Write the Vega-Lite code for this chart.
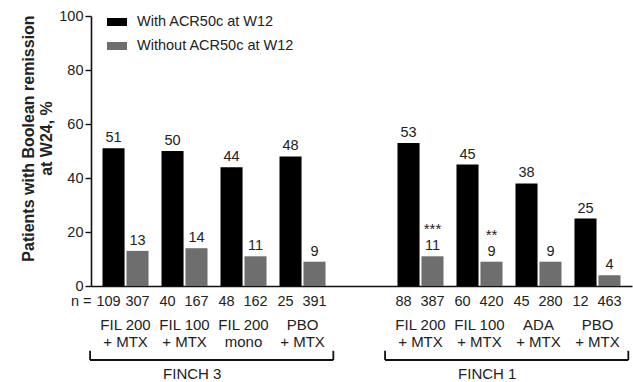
{
  "$schema": "https://vega.github.io/schema/vega-lite/v6.json",
  "width": 541,
  "height": 270,
  "autosize": {"type": "none"},
  "padding": {"left": 91, "top": 16, "right": 1, "bottom": 96},
  "background": "white",
  "config": {
    "font": "Liberation Sans",
    "view": {"stroke": null},
    "text": {"font": "Liberation Sans", "fontSize": 14.5, "color": "#222"}
  },
  "datasets": {
    "bars": [
      {"arm": "3|FIL 200|+ MTX", "series": "With ACR50c at W12", "pct": 51, "n": 109, "sig": ""},
      {"arm": "3|FIL 200|+ MTX", "series": "Without ACR50c at W12", "pct": 13, "n": 307, "sig": ""},
      {"arm": "3|FIL 100|+ MTX", "series": "With ACR50c at W12", "pct": 50, "n": 40, "sig": ""},
      {"arm": "3|FIL 100|+ MTX", "series": "Without ACR50c at W12", "pct": 14, "n": 167, "sig": ""},
      {"arm": "3|FIL 200|mono", "series": "With ACR50c at W12", "pct": 44, "n": 48, "sig": ""},
      {"arm": "3|FIL 200|mono", "series": "Without ACR50c at W12", "pct": 11, "n": 162, "sig": ""},
      {"arm": "3|PBO|+ MTX", "series": "With ACR50c at W12", "pct": 48, "n": 25, "sig": ""},
      {"arm": "3|PBO|+ MTX", "series": "Without ACR50c at W12", "pct": 9, "n": 391, "sig": ""},
      {"arm": "1|FIL 200|+ MTX", "series": "With ACR50c at W12", "pct": 53, "n": 88, "sig": ""},
      {"arm": "1|FIL 200|+ MTX", "series": "Without ACR50c at W12", "pct": 11, "n": 387, "sig": "***"},
      {"arm": "1|FIL 100|+ MTX", "series": "With ACR50c at W12", "pct": 45, "n": 60, "sig": ""},
      {"arm": "1|FIL 100|+ MTX", "series": "Without ACR50c at W12", "pct": 9, "n": 420, "sig": "**"},
      {"arm": "1|ADA|+ MTX", "series": "With ACR50c at W12", "pct": 38, "n": 45, "sig": ""},
      {"arm": "1|ADA|+ MTX", "series": "Without ACR50c at W12", "pct": 9, "n": 280, "sig": ""},
      {"arm": "1|PBO|+ MTX", "series": "With ACR50c at W12", "pct": 25, "n": 12, "sig": ""},
      {"arm": "1|PBO|+ MTX", "series": "Without ACR50c at W12", "pct": 4, "n": 463, "sig": ""}
    ],
    "studies": [
      {"study": "FINCH 3", "first": "3|FIL 200|+ MTX", "last": "3|PBO|+ MTX"},
      {"study": "FINCH 1", "first": "1|FIL 200|+ MTX", "last": "1|PBO|+ MTX"}
    ]
  },
  "layer": [
    {
      "data": {"name": "bars"},
      "mark": {"type": "bar", "stroke": null},
      "encoding": {
        "x": {
          "field": "arm", "type": "nominal", "sort": null,
          "scale": {
            "domain": ["3|FIL 200|+ MTX", "3|FIL 100|+ MTX", "3|FIL 200|mono", "3|PBO|+ MTX", "gap", "1|FIL 200|+ MTX", "1|FIL 100|+ MTX", "1|ADA|+ MTX", "1|PBO|+ MTX"],
            "paddingInner": 0.22, "paddingOuter": 0.195
          },
          "axis": {
            "title": null, "ticks": false, "labelAngle": 0,
            "labelExpr": "datum.label == 'gap' ? '' : slice(split(datum.label, '|'), 1)",
            "labelFont": "Liberation Sans", "labelFontSize": 15, "labelColor": "#222",
            "labelPadding": 31, "labelLineHeight": 17, "labelBaseline": "top",
            "domainColor": "#111", "domainWidth": 1.6
          }
        },
        "xOffset": {
          "field": "series", "type": "nominal", "sort": null,
          "scale": {"paddingInner": 0.08}
        },
        "y": {
          "field": "pct", "type": "quantitative",
          "scale": {"domain": [0, 100], "nice": false},
          "axis": {
            "values": [0, 20, 40, 60, 80, 100], "grid": false,
            "title": ["Patients with Boolean remission", "at W24, %"],
            "titleFont": "Liberation Sans", "titleFontSize": 16, "titleFontWeight": "bold",
            "titleColor": "#222", "titlePadding": 4, "titleLineHeight": 18,
            "titleY": 122,
            "labelFont": "Liberation Sans", "labelFontSize": 14.5, "labelColor": "#222",
            "labelPadding": 2,
            "domainColor": "#111", "domainWidth": 1.6,
            "tickColor": "#111", "tickWidth": 1.4, "tickSize": 6
          }
        },
        "color": {
          "field": "series", "type": "nominal", "sort": null,
          "scale": {"range": ["#000000", "#6e6e6e"]},
          "legend": {
            "title": null, "orient": "none", "legendX": 16, "legendY": -4,
            "symbolType": "M-1,-0.4H1V0.4H-1Z", "symbolSize": 400,
            "symbolStrokeWidth": 0, "labelFont": "Liberation Sans",
            "labelFontSize": 14.5, "labelColor": "#222", "labelOffset": 10,
            "rowPadding": 7
          }
        }
      }
    },
    {
      "data": {"name": "bars"},
      "mark": {"type": "text", "baseline": "bottom", "dy": -3},
      "encoding": {
        "x": {"field": "arm", "type": "nominal"},
        "xOffset": {"field": "series", "type": "nominal", "sort": null},
        "y": {"field": "pct", "type": "quantitative"},
        "text": {"field": "pct", "type": "quantitative"}
      }
    },
    {
      "data": {"name": "bars"},
      "mark": {"type": "text", "baseline": "bottom", "dy": -19, "fontSize": 15},
      "encoding": {
        "x": {"field": "arm", "type": "nominal"},
        "xOffset": {"field": "series", "type": "nominal", "sort": null},
        "y": {"field": "pct", "type": "quantitative"},
        "text": {"field": "sig", "type": "nominal"}
      }
    },
    {
      "data": {"name": "bars"},
      "transform": [{"filter": "datum.series == 'With ACR50c at W12'"}],
      "mark": {"type": "text", "baseline": "middle", "dy": 16, "dx": -5},
      "encoding": {
        "x": {"field": "arm", "type": "nominal"},
        "xOffset": {"datum": "With ACR50c at W12"},
        "y": {"datum": 0},
        "text": {"field": "n", "type": "quantitative"}
      }
    },
    {
      "data": {"name": "bars"},
      "transform": [{"filter": "datum.series == 'Without ACR50c at W12'"}],
      "mark": {"type": "text", "baseline": "middle", "dy": 16, "dx": 0},
      "encoding": {
        "x": {"field": "arm", "type": "nominal"},
        "xOffset": {"datum": "Without ACR50c at W12"},
        "y": {"datum": 0},
        "text": {"field": "n", "type": "quantitative"}
      }
    },
    {
      "data": {"values": [{"label": "n =", "arm": "3|FIL 200|+ MTX"}]},
      "mark": {"type": "text", "baseline": "middle", "align": "right", "dy": 16, "dx": -11},
      "encoding": {
        "x": {"field": "arm", "type": "nominal", "bandPosition": 0},
        "y": {"datum": 0},
        "text": {"field": "label", "type": "nominal"}
      }
    },
    {
      "data": {"name": "studies"},
      "mark": {"type": "rule", "color": "#111", "strokeWidth": 1.8},
      "encoding": {
        "x": {"field": "first", "type": "nominal", "bandPosition": -0.27},
        "x2": {"field": "last", "bandPosition": 1.17},
        "y": {"datum": -27.4}
      }
    },
    {
      "data": {"name": "studies"},
      "mark": {"type": "rule", "color": "#111", "strokeWidth": 1.8},
      "encoding": {
        "x": {"field": "first", "type": "nominal", "bandPosition": -0.27},
        "y": {"datum": -27.4},
        "y2": {"datum": -24}
      }
    },
    {
      "data": {"name": "studies"},
      "mark": {"type": "rule", "color": "#111", "strokeWidth": 1.8},
      "encoding": {
        "x": {"field": "last", "type": "nominal", "bandPosition": 1.17},
        "y": {"datum": -27.4},
        "y2": {"datum": -24}
      }
    },
    {
      "data": {"name": "studies"},
      "mark": {"type": "text", "baseline": "middle", "fontSize": 15},
      "encoding": {
        "x": {"field": "first", "type": "nominal", "bandPosition": 1.95},
        "y": {"datum": -32.6},
        "text": {"field": "study", "type": "nominal"}
      }
    }
  ]
}
